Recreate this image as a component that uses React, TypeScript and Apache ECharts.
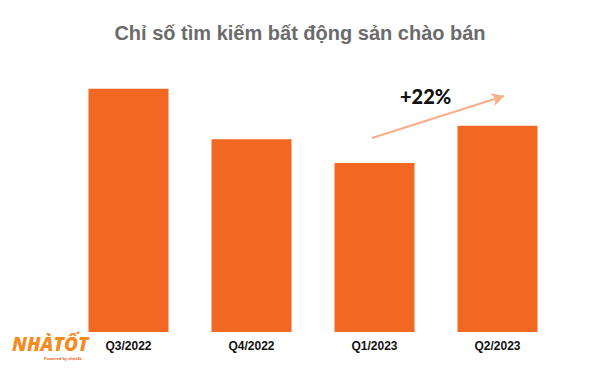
import React, { useEffect, useRef } from "react";
import * as echarts from "echarts";

const categories = ["Q3/2022", "Q4/2022", "Q1/2023", "Q2/2023"];
const values = [144, 114, 100, 122];
const titleText = "Chỉ số tìm kiếm bất động sản chào bán";
const growthLabel = "+22%";

export default function App() {
  const ref = useRef<HTMLDivElement>(null);
  useEffect(() => {
    const chart = echarts.init(ref.current!, null, { renderer: "svg" });
    chart.setOption({
      animation: false,
      backgroundColor: "#ffffff",
      title: {
        text: titleText,
        left: "center",
        top: 18,
        textStyle: {
          fontFamily: "Liberation Sans, Arial, sans-serif",
          fontSize: 20,
          fontWeight: "bold",
          color: "#6b6b6b",
        },
      },
      grid: { left: 67, right: 41, top: 78.5, bottom: 39 },
      xAxis: {
        type: "category",
        data: categories,
        axisLine: { show: false },
        axisTick: { show: false },
        axisLabel: {
          fontFamily: "Liberation Sans, Arial, sans-serif",
          fontSize: 12,
          fontWeight: "bold",
          color: "#111111",
          margin: 8,
        },
      },
      yAxis: {
        type: "value",
        min: 0,
        max: 150,
        show: false,
        splitLine: { show: false },
      },
      series: [
        {
          type: "bar",
          data: values,
          barWidth: 80,
          itemStyle: { color: "#F26722" },
          markLine: {
            silent: true,
            symbol: ["none", "arrow"],
            symbolSize: [10, 12],
            label: { show: false },
            lineStyle: { color: "#F8AE86", width: 2, type: "solid" },
            data: [[{ x: 372, y: 138 }, { x: 504, y: 96 }]],
          },
        },
      ],
      graphic: [
        {
          type: "text",
          left: 400,
          top: 86,
          style: {
            text: growthLabel,
            font: "900 20px Lato, 'Noto Sans', sans-serif",
            fill: "#111111",
          },
        },
        {
          type: "text",
          left: 12,
          top: 334,
          style: {
            text: "NHÀTỐT",
            font: "italic 900 19px 'Open Sans', 'Noto Sans', sans-serif",
            fill: "#F68B1F",
          },
        },
        {
          type: "text",
          left: 44,
          top: 356,
          style: {
            text: "Powered by chợtốt",
            font: "bold 4px 'Noto Sans', sans-serif",
            fill: "#F26522",
          },
        },
      ],
    });
    return () => chart.dispose();
  }, []);
  return <div ref={ref} style={{ width: 600, height: 371, margin: -8 }} />;
}
